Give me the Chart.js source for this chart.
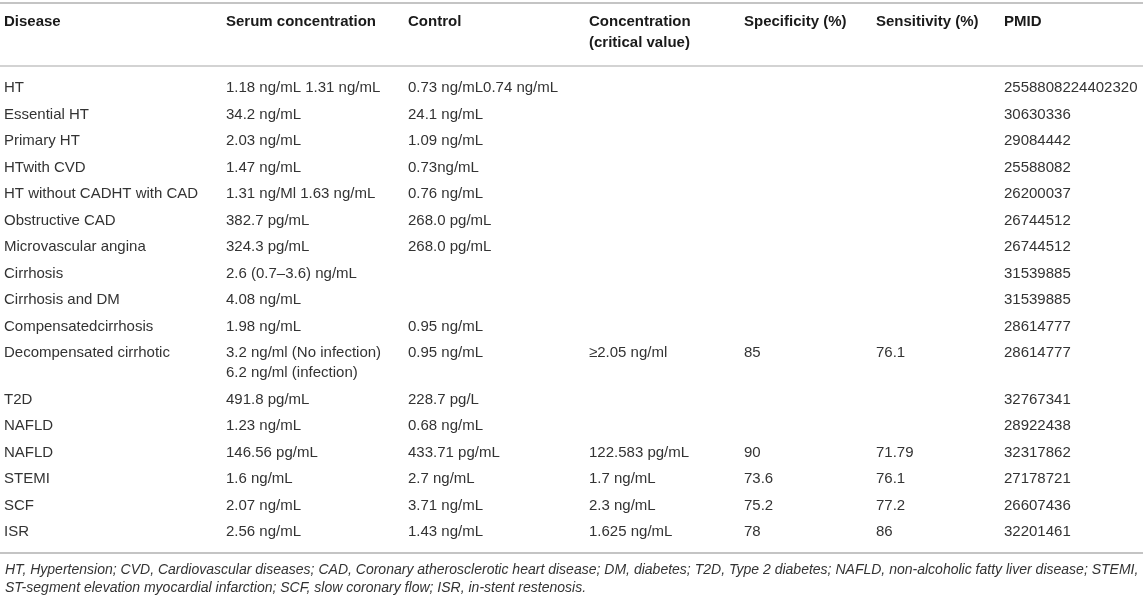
<!DOCTYPE html>
<html>
<head>
<meta charset="utf-8">
<script src="https://cdn.jsdelivr.net/npm/chart.js@4.4.1/dist/chart.umd.min.js"></script>
<style>
  html, body { margin: 0; padding: 0; background: #fff; }
  #wrap { width: 1143px; height: 600px; }
</style>
</head>
<body>
<div id="wrap"><canvas id="tabla" width="1143" height="600"></canvas></div>
<script>
/* Datos de la tabla */
const headers = ["Disease", "Serum concentration", "Control", "Concentration\n(critical value)", "Specificity (%)", "Sensitivity (%)", "PMID"];

const diseases = ["HT", "Essential HT", "Primary HT", "HTwith CVD", "HT without CADHT with CAD", "Obstructive CAD",
	"Microvascular angina", "Cirrhosis", "Cirrhosis and DM", "Compensatedcirrhosis", "Decompensated cirrhotic",
	"T2D", "NAFLD", "NAFLD", "STEMI", "SCF", "ISR"];

const serumConc = ["1.18 ng/mL 1.31 ng/mL", "34.2 ng/mL", "2.03 ng/mL", "1.47 ng/mL", "1.31 ng/Ml 1.63 ng/mL", "382.7 pg/mL",
	"324.3 pg/mL", "2.6 (0.7\u20133.6) ng/mL", "4.08 ng/mL", "1.98 ng/mL", "3.2 ng/ml (No infection)\n6.2 ng/ml (infection)",
	"491.8 pg/mL", "1.23 ng/mL", "146.56 pg/mL", "1.6 ng/mL", "2.07 ng/mL", "2.56 ng/mL"];

const controlConc = ["0.73 ng/mL0.74 ng/mL", "24.1 ng/mL", "1.09 ng/mL", "0.73ng/mL", "0.76 ng/mL", "268.0 pg/mL",
	"268.0 pg/mL", "", "", "0.95 ng/mL", "0.95 ng/mL",
	"228.7 pg/L", "0.68 ng/mL", "433.71 pg/mL", "2.7 ng/mL", "3.71 ng/mL", "1.43 ng/mL"];

const criticalConc = ["", "", "", "", "", "", "", "", "", "", "\u22652.05 ng/ml",
	"", "", "122.583 pg/mL", "1.7 ng/mL", "2.3 ng/mL", "1.625 ng/mL"];

const specificity = ["", "", "", "", "", "", "", "", "", "", "85", "", "", "90", "73.6", "75.2", "78"];

const sensitivity = ["", "", "", "", "", "", "", "", "", "", "76.1", "", "", "71.79", "76.1", "77.2", "86"];

const pmid = ["2558808224402320", "30630336", "29084442", "25588082", "26200037", "26744512",
	"26744512", "31539885", "31539885", "28614777", "28614777",
	"32767341", "28922438", "32317862", "27178721", "26607436", "32201461"];

const footnote = [
	"HT, Hypertension; CVD, Cardiovascular diseases; CAD, Coronary atherosclerotic heart disease; DM, diabetes; T2D, Type 2 diabetes; NAFLD, non-alcoholic fatty liver disease; STEMI,",
	"ST-segment elevation myocardial infarction; SCF, slow coronary flow; ISR, in-stent restenosis."
];

/* Layout (anchos de columna y estilos) */
const columnas = [diseases, serumConc, controlConc, criticalConc, specificity, sensitivity, pmid];
const anchoCol = [222, 182, 181, 155, 132, 128, 139];
const margenIzq = 4;
const pasoLinea = 20 / 26.5;   // segunda linea dentro de una celda
const fuenteCuerpo = "15px 'Liberation Sans', Arial, sans-serif";
const fuenteHeader = "bold 15px 'Liberation Sans', Arial, sans-serif";

// posicion x de cada columna (inicio)
let inicioCol = [];
let acum = margenIzq;
for (let i = 0; i < anchoCol.length; i++) {
	inicioCol.push(acum);
	acum += anchoCol[i];
}
const totalX = acum;

// posicion y de cada fila, en "filas"
let filaY = [];
let pos = 0;
for (let r = 0; r < diseases.length; r++) {
	filaY.push(pos);
	let lineas = 1;
	for (const col of columnas) {
		lineas = Math.max(lineas, col[r].split("\n").length);
	}
	pos += 1 + (lineas - 1) * pasoLinea;
}
const ultimaFila = filaY[filaY.length - 1];

const datasets = columnas.map(function (col, c) {
	return {
		label: headers[c],
		data: col.map(function (txt, r) { return { x: inicioCol[c], y: filaY[r], texto: txt }; }),
		pointRadius: 0,
		pointHoverRadius: 0,
		showLine: false
	};
});

/* Plugin que dibuja textos y reglas */
const plugTabla = {
	id: 'plugTabla',
	afterDatasetsDraw(chart) {
		const ctx = chart.ctx;
		const area = chart.chartArea;
		const xs = chart.scales.x;
		ctx.save();

		// reglas
		ctx.strokeStyle = '#c4c4c4';
		ctx.lineWidth = 2;
		ctx.beginPath(); ctx.moveTo(0, 3); ctx.lineTo(chart.width, 3); ctx.stroke();
		ctx.lineWidth = 1.5;
		ctx.beginPath(); ctx.moveTo(0, area.top); ctx.lineTo(chart.width, area.top); ctx.stroke();
		ctx.lineWidth = 2;
		ctx.beginPath(); ctx.moveTo(0, area.bottom); ctx.lineTo(chart.width, area.bottom); ctx.stroke();

		// encabezados
		ctx.font = fuenteHeader;
		ctx.fillStyle = '#1a1a1a';
		ctx.textBaseline = 'middle';
		ctx.textAlign = 'left';
		headers.forEach(function (h, c) {
			const px = xs.getPixelForValue(inicioCol[c]);
			h.split("\n").forEach(function (linea, k) {
				ctx.fillText(linea, px, 22 + k * 21);
			});
		});

		// celdas
		const unidad = Math.abs(chart.scales.y.getPixelForValue(1) - chart.scales.y.getPixelForValue(0));
		ctx.font = fuenteCuerpo;
		ctx.fillStyle = '#333';
		chart.data.datasets.forEach(function (ds, i) {
			const meta = chart.getDatasetMeta(i);
			meta.data.forEach(function (el, j) {
				const txt = ds.data[j].texto;
				if (!txt) return;
				txt.split("\n").forEach(function (linea, k) {
					ctx.fillText(linea, el.x, el.y + k * pasoLinea * unidad);
				});
			});
		});

		// nota al pie
		let tam = 13;
		ctx.font = "italic " + tam + "px 'Liberation Sans Narrow', 'Liberation Sans', sans-serif";
		const ancho = ctx.measureText(footnote[0]).width;
		tam = tam * 1134 / ancho;
		ctx.font = "italic " + tam.toFixed(2) + "px 'Liberation Sans Narrow', 'Liberation Sans', sans-serif";
		ctx.fillStyle = '#333';
		footnote.forEach(function (linea, k) {
			ctx.fillText(linea, 5, 570 + k * 18);
		});

		ctx.restore();
	}
};

const ctx = document.getElementById('tabla');
const tabla = new Chart(ctx, {
	type: 'scatter',
	data: { datasets: datasets },
	options: {
		responsive: false,
		animation: false,
		events: [],
		layout: { padding: { top: 66, bottom: 47, left: 0, right: 0 } },
		plugins: {
			legend: { display: false },
			tooltip: { enabled: false }
		},
		scales: {
			x: { type: 'linear', display: false, min: 0, max: totalX },
			y: { type: 'linear', display: false, reverse: true, min: -0.83, max: ultimaFila + 0.79 }
		}
	},
	plugins: [plugTabla]
});
</script>
</body>
</html>
